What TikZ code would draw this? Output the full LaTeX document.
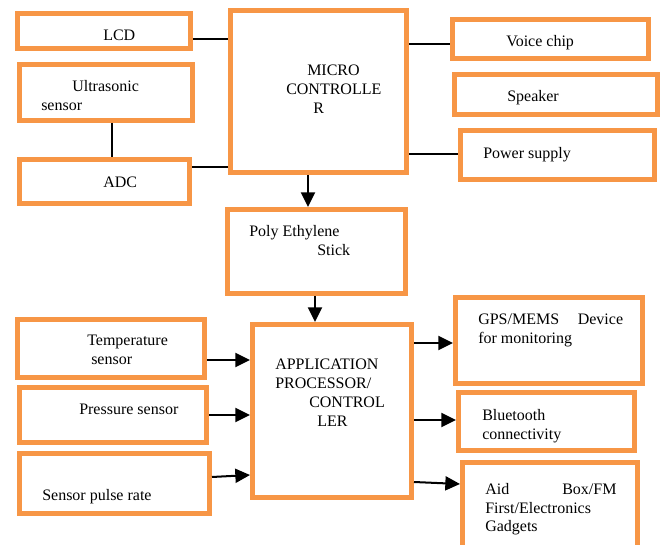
\documentclass[tikz,border=0pt]{standalone}
\usepackage{fontspec}
\setmainfont{Liberation Serif}
\usetikzlibrary{arrows.meta}
\definecolor{boxorange}{RGB}{247,150,70}

\begin{document}
\begin{tikzpicture}[x=0.75pt,y=-0.75pt]
% Define common styles
\tikzset{
    block/.style 2 args={draw=boxorange, line width=3.75pt, fill=white, inner sep=0pt,
        minimum width=#1*0.75pt, minimum height=#2*0.75pt},
    wire/.style={line width=1.5pt},
    arrow/.style={-{Triangle[length=11pt,width=10.5pt]}, line width=1.5pt},
    txt/.style={anchor=base west, inner sep=0pt, font=\fontsize{12}{14.25}\selectfont}
}
\clip (0,0) rectangle (661,545);

% Micro controller side (top)
\node[block={173}{35}] (lcd) at (104,31) {};
\node[block={173}{56}] (ultra) at (106,92.5) {};
\node[block={170}{44}] (adc) at (104.5,181.5) {};
\node[block={176}{162}] (micro) at (318.5,91.5) {};
\node[block={196}{39}] (voice) at (550.5,39) {};
\node[block={203}{40}] (speaker) at (556,94.5) {};
\node[block={194}{49}] (power) at (557.5,155) {};

\node[txt] (lcdtxt) at (103,41) {LCD};
\node[txt] (ultratxt) at (41,92) {\begin{tabular}[t]{@{}l@{}}\hspace*{23.25pt}Ultrasonic\\ sensor\end{tabular}};
\node[txt] (adctxt) at (103,188) {ADC};
\node[txt] (microtxt) at (286,76) {\begin{tabular}[t]{@{}l@{}}\hspace*{15.75pt}MICRO\\ CONTROLLE\\ \hspace*{20.25pt}R\end{tabular}};
\node[txt] (voicetxt) at (506,47) {Voice chip};
\node[txt] (speakertxt) at (507,102) {Speaker};
\node[txt] (powertxt) at (483,159) {Power supply};

% Middle
\node[block={178}{84}] (poly) at (316.5,251.5) {};
\node[txt] (polytxt) at (249,237) {\begin{tabular}[t]{@{}l@{}}Poly Ethylene\\ \hspace*{51pt}Stick\end{tabular}};

% Application processor side (bottom)
\node[block={159}{173}] (app) at (332,411) {};
\node[block={187}{58}] (temp) at (111,348.5) {};
\node[block={187}{55}] (press) at (113,415) {};
\node[block={190}{60}] (pulse) at (114.5,483.5) {};
\node[block={187}{86}] (gps) at (549,340.5) {};
\node[block={176}{58}] (bt) at (546.5,421.5) {};
\node[block={175}{90}] (aid) at (550,508) {};

\node[txt] (apptxt) at (275,370) {\begin{tabular}[t]{@{}l@{}}APPLICATION\\ PROCESSOR/\\ \hspace*{25.5pt}CONTROL\\ \hspace*{31.5pt}LER\end{tabular}};
\node[txt] (temptxt) at (87,346) {\begin{tabular}[t]{@{}l@{}}Temperature\\ \hspace*{3pt}sensor\end{tabular}};
\node[txt] (presstxt) at (79,415) {Pressure sensor};
\node[txt] (pulsetxt) at (42,500) {Sensor pulse rate};
\node[txt] (gpstxt) at (478,325) {\begin{tabular}[t]{@{}l@{}}GPS/MEMS\hspace*{14pt}Device\\ for monitoring\end{tabular}};
\node[txt] (bttxt) at (482,421) {\begin{tabular}[t]{@{}l@{}}Bluetooth\\ connectivity\end{tabular}};
\node[txt] (aidtxt) at (485,494) {\begin{tabular}[t]{@{}l@{}}Aid\hspace*{39.75pt}Box/FM\\ First/Electronics\\ Gadgets\end{tabular}};

% Connections
\draw[wire] (lcd.east |- 0,39) -- (micro.west |- 0,39);
\draw[wire] (ultra.south -| 112,0) -- (adc.north -| 112,0);
\draw[wire] (adc.east |- 0,167) -- (micro.west |- 0,167);
\draw[wire] (micro.east |- 0,44) -- (voice.west |- 0,44);
\draw[wire] (micro.east |- 0,154) -- (power.west |- 0,154);

\draw[arrow] (micro.south -| 308,0) -- (poly.north -| 308,0);
\draw[arrow] (poly.south -| 315,0) -- (app.north -| 315,0);

\draw[arrow] (temp.east |- 0,360) -- (app.west |- 0,360);
\draw[arrow] (press.east |- 0,415) -- (app.west |- 0,415);
\draw[arrow] (pulse.east |- 0,477) -- (app.west |- 0,475);
\draw[arrow] (app.east |- 0,343) -- (gps.west |- 0,343);
\draw[arrow] (app.east |- 0,420) -- (bt.west |- 0,420);
\draw[arrow] (app.east |- 0,482) -- (aid.west |- 0,484);

\end{tikzpicture}
\end{document}
